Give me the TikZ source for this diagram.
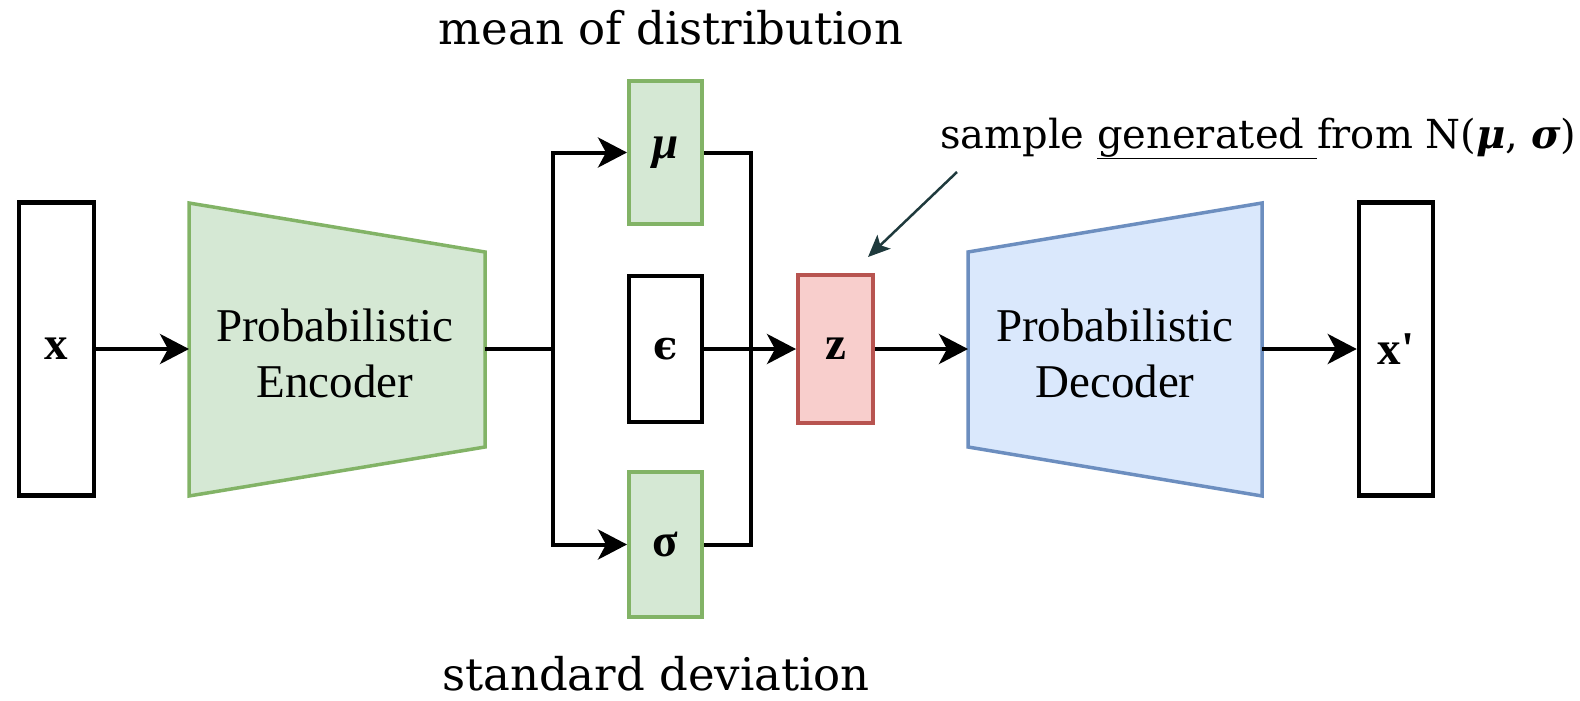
\documentclass[tikz,border=0pt]{standalone}
\usepackage{fontspec}
\usetikzlibrary{arrows.meta}
\newfontfamily\tnr{Liberation Serif}
\newfontfamily\slab{DejaVu Serif}
\definecolor{encfill}{HTML}{D5E8D4}
\definecolor{encline}{HTML}{82B366}
\definecolor{decfill}{HTML}{DAE8FC}
\definecolor{decline}{HTML}{6C8EBF}
\definecolor{zfill}{HTML}{F8CECC}
\definecolor{zline}{HTML}{B85450}
\definecolor{ptrcol}{HTML}{1F3A3D}
\begin{document}
\begin{tikzpicture}[x=1pt,y=-1pt,
  bigtext/.style={font=\tnr\fontsize{47}{56}\selectfont},
  iobox/.style={draw=black,line width=4.5pt,fill=white,inner sep=0pt,
    minimum width=75pt,minimum height=293pt,bigtext},
  latent/.style={draw=encline,line width=4pt,fill=encfill,inner sep=0pt,
    minimum width=73pt,bigtext},
  noisebox/.style={draw=black,line width=4.5pt,fill=white,inner sep=0pt,
    minimum width=73pt,bigtext},
  zbox/.style={draw=zline,line width=4pt,fill=zfill,inner sep=0pt,
    minimum width=75pt,minimum height=148pt,bigtext},
  encshape/.style={draw=encline,line width=3.5pt,fill=encfill,line join=miter},
  decshape/.style={draw=decline,line width=3.5pt,fill=decfill,line join=miter},
  netlabel/.style={bigtext,align=center},
  wire/.style={line width=4pt,draw=black},
  flow/.style={wire,-{Stealth[length=29pt,width=30pt,inset=8pt]}},
  pointer/.style={line width=2.5pt,draw=ptrcol,
    -{Stealth[length=22pt,width=19pt,inset=5pt]}},
  note/.style={font=\slab\fontsize{45}{50}\selectfont,inner sep=0pt},
  samplenote/.style={font=\slab\fontsize{40}{46}\selectfont,inner sep=0pt}
]
\useasboundingbox (0,0) rectangle (1580,701);

% input and output vectors
\node[iobox] (xin) at (56.5,349) {\textbf{x}};
\node[iobox,minimum width=74pt] (xout) at (1396,349) {\textbf{x'}};

% encoder
\draw[encshape] (189,203) -- (485,252) -- (485,447) -- (189,496) -- cycle;
\node[netlabel] (enc) at (335,353) {Probabilistic\\Encoder};
\coordinate (encW) at (189,349);
\coordinate (encE) at (485,349);

% decoder
\draw[decshape] (968,252) -- (1262,203) -- (1262,496) -- (968,447) -- cycle;
\node[netlabel] (dec) at (1115,353) {Probabilistic\\Decoder};
\coordinate (decW) at (968,349);
\coordinate (decE) at (1262,349);

% latent parameters, noise and sample
\node[latent,minimum height=143pt] (mu) at (665.5,152.5) {\bfseries\itshape μ};
\node[noisebox,minimum height=146pt] (eps) at (665.5,349)
  {\slab\fontsize{40}{44}\selectfont\bfseries ϵ};
\node[latent,minimum height=145pt] (sig) at (665.5,544.5) {\bfseries σ};
\node[zbox] (z) at (835.5,349) {\bfseries z};

% connectors
\coordinate (split) at (553,349);
\coordinate (merge) at (751,349);
\draw[flow] (xin.east) -- (encW);
\draw[wire] (encE) -- (split);
\draw[flow] (split) |- (mu.west);
\draw[flow] (split) |- (sig.west);
\draw[wire] (mu.east) -| (merge) |- (sig.east);
\draw[flow] (eps.east) -- (z.west);
\draw[flow] (z.east) -- (decW);
\draw[flow] (decE) -- (xout.west);

% annotations
\node[note,anchor=base] (meanlbl) at (671,45) {mean of distribution};
\node[note,anchor=base] (sdlbl) at (656,690) {standard deviation};
\node[samplenote,anchor=base west] (samplbl) at (940,148)
  {sample \underline{generated\ }from N({\bfseries\itshape μ}, {\bfseries\itshape σ})};
\coordinate (ptrfrom) at (957,172);
\coordinate (ptrto) at (868,257);
\draw[pointer] (ptrfrom) -- (ptrto);
\end{tikzpicture}
\end{document}
